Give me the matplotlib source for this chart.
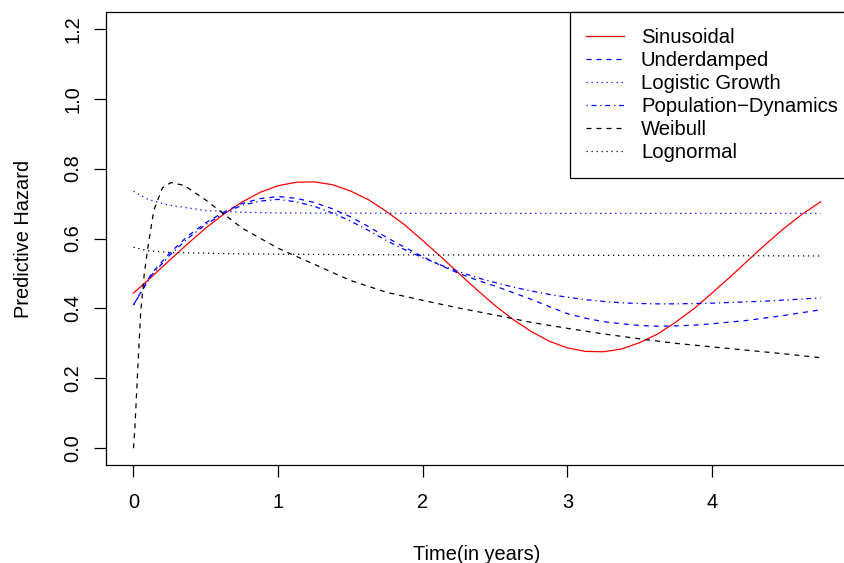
import numpy as np
import matplotlib
matplotlib.use("Agg")
import matplotlib.pyplot as plt

plt.rcParams['font.family'] = ['Liberation Sans', 'DejaVu Sans']
plt.rcParams['lines.scale_dashes'] = False

# predictive hazard curves, read on a common time grid (years)
t = [0, 0.125, 0.25, 0.375, 0.5, 0.625, 0.75, 0.875, 1.0, 1.125,
     1.25, 1.375, 1.5, 1.625, 1.75, 1.875, 2.0, 2.125, 2.25, 2.375,
     2.5, 2.625, 2.75, 2.875, 3.0, 3.125, 3.25, 3.375, 3.5, 3.625,
     3.75, 3.875, 4.0, 4.125, 4.25, 4.375, 4.5, 4.625, 4.75]
sinusoidal = [0.444, 0.490, 0.538, 0.585, 0.630, 0.670, 0.704, 0.732, 0.751, 0.761,
              0.762, 0.754, 0.736, 0.711, 0.677, 0.639, 0.594, 0.548, 0.500, 0.453,
              0.408, 0.368, 0.334, 0.306, 0.287, 0.277, 0.276, 0.284, 0.302, 0.327,
              0.361, 0.399, 0.444, 0.490, 0.538, 0.585, 0.630, 0.670, 0.705]
underdamped = [0.410, 0.500, 0.558, 0.607, 0.645, 0.676, 0.700, 0.714, 0.720, 0.715,
               0.703, 0.685, 0.662, 0.634, 0.603, 0.575, 0.548, 0.523, 0.500, 0.481,
               0.464, 0.445, 0.426, 0.405, 0.385, 0.372, 0.362, 0.356, 0.351, 0.349,
               0.350, 0.352, 0.356, 0.361, 0.366, 0.373, 0.380, 0.388, 0.396]
pop_dynamics = [0.410, 0.495, 0.552, 0.600, 0.640, 0.672, 0.695, 0.707, 0.712, 0.705,
                0.692, 0.673, 0.650, 0.623, 0.594, 0.568, 0.545, 0.524, 0.505, 0.488,
                0.474, 0.461, 0.450, 0.440, 0.432, 0.425, 0.420, 0.416, 0.414, 0.413,
                0.413, 0.414, 0.415, 0.417, 0.419, 0.421, 0.424, 0.427, 0.430]

t_weibull = [0, 0.01, 0.03, 0.05, 0.075, 0.1, 0.14, 0.2, 0.26, 0.35, 0.5, 0.75,
             1.0, 1.25, 1.5, 1.75, 2.0, 2.25, 2.5, 2.75, 3.0, 3.25, 3.5, 3.75,
             4.0, 4.25, 4.5, 4.75]
weibull = [0.0, 0.06, 0.23, 0.39, 0.50, 0.575, 0.68, 0.745, 0.760, 0.752, 0.710, 0.630,
           0.572, 0.526, 0.480, 0.446, 0.423, 0.401, 0.381, 0.360, 0.343, 0.327, 0.313, 0.300,
           0.290, 0.280, 0.270, 0.259]

t_flat = [0, 0.1, 0.25, 0.5, 0.75, 1.0, 2.0, 3.0, 4.0, 4.75]
logistic = [0.735, 0.712, 0.695, 0.680, 0.675, 0.673, 0.672, 0.672, 0.672, 0.672]
lognormal = [0.575, 0.565, 0.560, 0.558, 0.556, 0.555, 0.553, 0.552, 0.551, 0.550]

xticks = [0, 1, 2, 3, 4]
yticks = [0.0, 0.2, 0.4, 0.6, 0.8, 1.0, 1.2]

dashed = (0, (3.6, 3.6))
dotted = (0, (0.9, 2.7))
dashdot = (0, (0.9, 2.7, 3.6, 2.7))
lw = 0.9
fs = 14.4

fig = plt.figure(figsize=(8.44, 5.63), dpi=100)
ax = fig.add_axes([106 / 844, 1 - 465 / 563, (848 - 106) / 844, (465 - 12) / 563])

ax.plot(t, sinusoidal, color='red', lw=lw, label='Sinusoidal')
ax.plot(t, underdamped, color='blue', lw=lw, linestyle=dashed, label='Underdamped')
ax.plot(t_flat, logistic, color='blue', lw=lw, linestyle=dotted, label='Logistic Growth')
ax.plot(t, pop_dynamics, color='blue', lw=lw, linestyle=dashdot, label='Population\u2212Dynamics')
ax.plot(t_weibull, weibull, color='black', lw=lw, linestyle=dashed, label='Weibull')
ax.plot(t_flat, lognormal, color='black', lw=lw, linestyle=dotted, label='Lognormal')

ax.set_xlim(-0.19, 4.94)
ax.set_ylim(-0.048, 1.248)
ax.set_xticks(xticks)
ax.set_xticklabels([str(v) for v in xticks])
ax.set_yticks(yticks)
ax.set_yticklabels(['%.1f' % v for v in yticks], rotation=90, va='center')
ax.tick_params(direction='out', length=8.8, width=0.9, labelsize=fs, pad=8)
ax.tick_params(axis='x', pad=11)
for s in ax.spines.values():
    s.set_linewidth(0.9)

ax.set_xlabel('Time(in years)', fontsize=fs, labelpad=24)
ax.set_ylabel('Predictive Hazard', fontsize=fs, labelpad=22)

# legend box anchored by its top-left corner; it runs past the right edge
leg = ax.legend(loc='upper left', bbox_to_anchor=((570 - 106) / 742, 1), borderaxespad=0,
                fontsize=14.6, frameon=True, fancybox=False, framealpha=1,
                edgecolor='black', handlelength=1.88, handletextpad=0.84,
                labelspacing=0.2, borderpad=0.78)
leg.get_frame().set_linewidth(0.9)

fig.savefig('out.png', dpi=100)
